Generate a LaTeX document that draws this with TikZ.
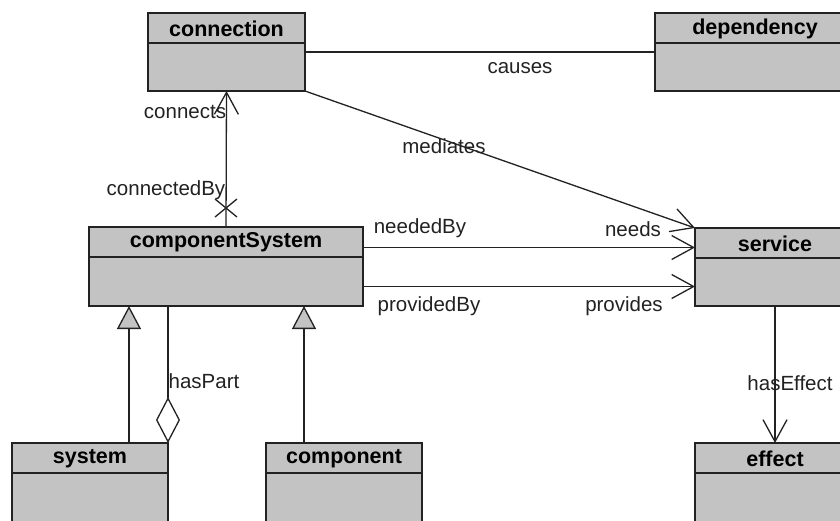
\documentclass[tikz,border=0pt]{standalone}
\usepackage{fontspec}
\setmainfont{Liberation Sans}
\usetikzlibrary{arrows.meta}
\definecolor{boxgray}{HTML}{C3C3C3}
\definecolor{ink}{HTML}{222222}

% class box: #1 name, #2 top-left, #3 width, #4 height, #5 title
\newcommand{\umlclass}[5]{%
  \node[classbox, minimum width=#3, minimum height=#4] (#1) at (#2) {};
  \draw[divider] ([yshift=-30pt]#1.north west) -- ([yshift=-30pt]#1.north east);
  \node[classname] (#1-title) at ([yshift=-15.5pt]#1.north) {#5};
}

\begin{document}
\begin{tikzpicture}[x=1pt,y=-1pt,
  classbox/.style={draw=ink, line width=1.4pt, fill=boxgray, anchor=north west, inner sep=0pt, outer sep=0pt},
  divider/.style={draw=ink, line width=1.4pt},
  classname/.style={font=\bfseries\fontsize{21.5}{23}\selectfont, text=black, inner sep=0pt},
  lbl/.style={font=\fontsize{20.5}{22}\selectfont, text=ink, inner sep=0pt},
  link/.style={draw=ink, line width=1.3pt},
  navarrow/.style={link, -{Straight Barb[length=22pt,width=24pt]}},
  inherit/.style={link, -{Triangle[length=23pt,width=24pt,fill=boxgray]}},
  aggregate/.style={link, {Diamond[length=46pt,width=24pt,fill=white]}-},
]
\useasboundingbox (0,0) rectangle (840,520);
\clip (0,0) rectangle (840,520);
\fill[white] (0,0) rectangle (840,520);

% classes
\umlclass{conn}{148,13}{157pt}{78pt}{connection}
\umlclass{dep}{655,13}{200pt}{78pt}{dependency}
\umlclass{cs}{89,227}{274pt}{79pt}{componentSystem}
\umlclass{srv}{695,228}{160pt}{78pt}{service}
\umlclass{sys}{12,443}{156pt}{90pt}{system}
\umlclass{comp}{266,443}{156pt}{90pt}{component}
\umlclass{eff}{695,443}{160pt}{90pt}{effect}

% connection -- dependency
\draw[link] (conn.east) -- (dep.east -| dep.west);
\node[lbl] (causes) at (520,68) {causes};

% componentSystem -> connection
\draw[navarrow] (cs.north) -- (conn.south);
\coordinate (xmark) at ([yshift=19pt]cs.north);
\draw[link] ([shift={(-11pt,9pt)}]xmark) -- ([shift={(11pt,-9pt)}]xmark);
\draw[link] ([shift={(-11pt,-9pt)}]xmark) -- ([shift={(11pt,9pt)}]xmark);
\node[lbl] (connects) at (185,112) {connects};
\node[lbl] (connectedBy) at (166,190) {connectedBy};

% connection -> service
\draw[navarrow] (conn.south east) -- (srv.north west);
\node[lbl] (mediates) at (444,146) {mediates};

% componentSystem -> service
\draw[navarrow] ([yshift=19pt]cs.east) -- ([yshift=19pt]cs.east -| srv.west);
\draw[navarrow] ([yshift=-20pt]cs.east) -- ([yshift=-20pt]cs.east -| srv.west);
\node[lbl] (neededBy) at (420,228) {neededBy};
\node[lbl] (needs) at (633,229) {needs};
\node[lbl] (providedBy) at (429,306) {providedBy};
\node[lbl] (provides) at (624,306) {provides};

% service -> effect
\draw[navarrow] (srv.south) -- (eff.north);
\node[lbl] (hasEffect) at (790,383) {hasEffect};

% generalizations
\draw[inherit] ([xshift=39pt]sys.north) -- ([xshift=39pt]sys.north |- cs.south);
\draw[inherit] ([xshift=-40pt]comp.north) -- ([xshift=-40pt]comp.north |- cs.south);

% aggregation
\draw[aggregate] (sys.north east) -- (sys.north east |- cs.south);
\node[lbl] (hasPart) at (204,381) {hasPart};
\end{tikzpicture}
\end{document}
